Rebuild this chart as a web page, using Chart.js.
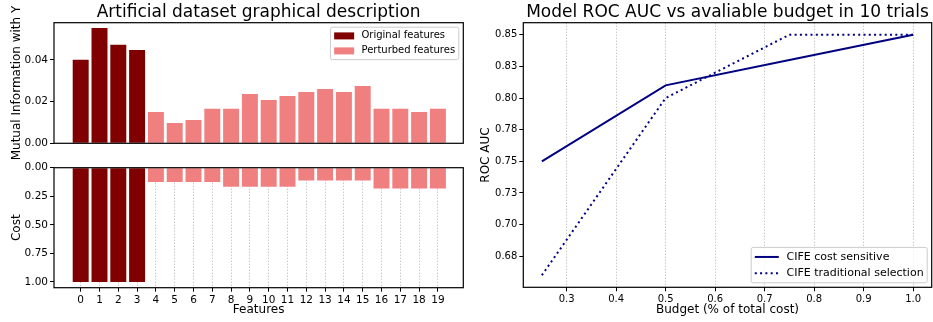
<!DOCTYPE html>
<html>
<head>
<meta charset="utf-8">
<script src="https://cdn.jsdelivr.net/npm/chart.js@4/dist/chart.umd.min.js"></script>
<style>
  body { margin: 0; background: #fff; }
  #wrap { position: relative; width: 933px; height: 322px; }
  canvas { position: absolute; }
</style>
</head>
<body>
<div id="wrap">
  <canvas id="miChart" width="470" height="172" style="left:0px;top:0px"></canvas>
  <canvas id="costChart" width="470" height="172" style="left:0px;top:150px"></canvas>
  <canvas id="rocChart" width="463" height="322" style="left:470px;top:0px"></canvas>
</div>
<script>
/* data */
var features = [0, 1, 2, 3, 4, 5, 6, 7, 8, 9, 10, 11, 12, 13, 14, 15, 16, 17, 18, 19]
var originalIdx = [0, 1, 2, 3]
var perturbedIdx = [4, 5, 6, 7, 8, 9, 10, 11, 12, 13, 14, 15, 16, 17, 18, 19]
var originalMI = [0.0400, 0.0553, 0.0472, 0.0447]
var perturbedMI = [0.0150, 0.0097, 0.0112, 0.0165, 0.0165, 0.0236, 0.0208, 0.0227,
                   0.0246, 0.0260, 0.0246, 0.0275, 0.0165, 0.0165, 0.0150, 0.0165]
var originalCost = [1, 1, 1, 1]
var perturbedCost = [0.125, 0.125, 0.125, 0.125, 0.167, 0.167, 0.167, 0.167,
                     0.111, 0.111, 0.111, 0.111, 0.182, 0.182, 0.182, 0.182]
var miTicks = [0, 0.02, 0.04]
var costTicks = [0, 0.25, 0.5, 0.75, 1]

var budget = [0.25, 0.5, 0.75, 1.0]
var aucCostSensitive = [0.750, 0.810, 0.830, 0.850]
var aucTraditional = [0.660, 0.800, 0.850, 0.850]
var budgetTicks = [0.3, 0.4, 0.5, 0.6, 0.7, 0.8, 0.9, 1.0]
var aucTicks = [0.675, 0.700, 0.725, 0.750, 0.775, 0.800, 0.825, 0.850]
var aucTickLabels = ['0.68', '0.70', '0.73', '0.75', '0.78', '0.80', '0.83', '0.85']

const FONT = '"DejaVu Sans", sans-serif'
Chart.defaults.font.family = FONT
Chart.defaults.color = '#000'

const pts = (xs, ys) => xs.map((x, i) => ({ x: x, y: ys[i] }))
const setTicks = list => s => { s.ticks = list.map(v => ({ value: v })) }

// black box round the plot area, like matplotlib spines
const frame = {
    id: 'frame',
    afterDatasetsDraw(chart) {
        const a = chart.chartArea, ctx = chart.ctx
        ctx.save()
        ctx.strokeStyle = '#000'
        ctx.lineWidth = 1.2
        ctx.strokeRect(a.left, a.top, a.right - a.left, a.bottom - a.top)
        ctx.restore()
    }
}

// legend drawn inside the plot area
const boxLegend = {
    id: 'boxLegend',
    afterDraw(chart, args, o) {
        const ctx = chart.ctx, a = chart.chartArea
        const sets = chart.data.datasets
        ctx.save()
        ctx.font = o.size + 'px ' + FONT
        const textW = Math.max(...sets.map(d => ctx.measureText(d.label).width))
        const w = o.padX * 2 + o.handle + o.gap + textW
        const h = o.padY * 2 + o.row * sets.length
        const x = a.right - o.margin - w
        const y = o.place === 'top' ? a.top + o.margin : a.bottom - o.margin - h
        ctx.beginPath()
        ctx.roundRect(x, y, w, h, 2)
        ctx.fillStyle = 'rgba(255,255,255,0.8)'
        ctx.fill()
        ctx.strokeStyle = '#cccccc'
        ctx.lineWidth = 1
        ctx.stroke()
        sets.forEach((d, i) => {
            const cy = y + o.padY + o.row * (i + 0.5)
            const hx = x + o.padX
            if (chart.config.type === 'bar') {
                ctx.fillStyle = d.backgroundColor
                ctx.fillRect(hx, cy - 3.5, o.handle, 7)
            } else {
                ctx.strokeStyle = d.borderColor
                ctx.lineWidth = d.borderWidth
                ctx.setLineDash(d.borderDash || [])
                ctx.beginPath()
                ctx.moveTo(hx, cy)
                ctx.lineTo(hx + o.handle, cy)
                ctx.stroke()
                ctx.setLineDash([])
            }
            ctx.fillStyle = '#000'
            ctx.textBaseline = 'middle'
            ctx.textAlign = 'left'
            ctx.fillText(d.label, hx + o.handle + o.gap, cy)
        })
        ctx.restore()
    }
}

const titleOpts = text => ({
    display: true,
    text: text,
    fullSize: false,
    color: '#000',
    font: { size: 17, weight: 'normal', lineHeight: 1.1 },
    padding: { top: 3.6, bottom: 0.4 }
})
const axisTitle = (text, pad) => ({
    display: true,
    text: text,
    color: '#000',
    font: { size: 12, lineHeight: 1.2 },
    padding: pad
})
const tickGrid = { drawOnChartArea: false, tickLength: 4, tickColor: '#000', tickWidth: 1 }
const dotGrid = { color: '#b0b0b0', lineWidth: 1, offset: false, tickLength: 4, tickColor: '#000', tickWidth: 1, tickBorderDash: [] }
const featureRange = { min: -1.42, max: 20.35 }

/* mutual information (top left) */
new Chart(document.getElementById('miChart'), {
    type: 'bar',
    data: {
        datasets: [
            { label: 'Original features', data: pts(originalIdx, originalMI), backgroundColor: '#800000' },
            { label: 'Perturbed features', data: pts(perturbedIdx, perturbedMI), backgroundColor: '#f08080' }
        ]
    },
    options: {
        responsive: false,
        animation: false,
        layout: { padding: { left: 0, right: 6.7, top: 0, bottom: 28.7 }, autoPadding: false },
        datasets: { bar: { grouped: false, barPercentage: 0.85, categoryPercentage: 1 } },
        scales: {
            x: {
                type: 'linear', min: featureRange.min, max: featureRange.max,
                offset: false, display: false, grid: { offset: false },
                afterBuildTicks: setTicks(features)
            },
            y: {
                min: 0, max: 0.0578,
                afterBuildTicks: setTicks(miTicks),
                ticks: { font: { size: 10.5 }, padding: 2, callback: v => v.toFixed(2) },
                grid: tickGrid,
                border: { display: false },
                title: axisTitle('Mutual Information with Y', { top: 10, bottom: 0 }),
                afterFit: s => { s.width = 54 }
            }
        },
        plugins: {
            legend: { display: false },
            tooltip: { enabled: false },
            title: titleOpts('Artificial dataset graphical description'),
            boxLegend: { size: 10, padX: 3.7, padY: 1.2, row: 15, handle: 20, gap: 7.3, margin: 4.5, place: 'top' }
        }
    },
    plugins: [frame, boxLegend]
})

/* cost (bottom left) */
new Chart(document.getElementById('costChart'), {
    type: 'bar',
    data: {
        datasets: [
            { label: 'Original features', data: pts(originalIdx, originalCost), backgroundColor: '#800000' },
            { label: 'Perturbed features', data: pts(perturbedIdx, perturbedCost), backgroundColor: '#f08080' }
        ]
    },
    options: {
        responsive: false,
        animation: false,
        layout: { padding: { left: 0, right: 6.7, top: 17.7, bottom: 0 }, autoPadding: false },
        datasets: { bar: { grouped: false, barPercentage: 0.85, categoryPercentage: 1 } },
        scales: {
            x: {
                type: 'linear', min: featureRange.min, max: featureRange.max, offset: false,
                afterBuildTicks: setTicks(features),
                ticks: { font: { size: 10.5 }, padding: 2, autoSkip: false, maxRotation: 0, callback: v => String(v) },
                grid: dotGrid,
                border: { display: false, dash: [1, 2] },
                title: axisTitle('Features', { top: 0, bottom: 5.3 }),
                afterFit: s => { s.height = 34.3 }
            },
            y: {
                reverse: true, min: 0, max: 1.05,
                afterBuildTicks: setTicks(costTicks),
                ticks: { font: { size: 10.5 }, padding: 2, callback: v => v.toFixed(2) },
                grid: tickGrid,
                border: { display: false },
                title: axisTitle('Cost', { top: 10, bottom: 0 }),
                afterFit: s => { s.width = 54 }
            }
        },
        plugins: {
            legend: { display: false },
            tooltip: { enabled: false }
        }
    },
    plugins: [frame]
})

/* ROC AUC vs budget (right) */
new Chart(document.getElementById('rocChart'), {
    type: 'line',
    data: {
        datasets: [
            { label: 'CIFE cost sensitive', data: pts(budget, aucCostSensitive), borderColor: '#000080', borderWidth: 2, pointRadius: 0, fill: false },
            { label: 'CIFE traditional selection', data: pts(budget, aucTraditional), borderColor: '#000080', borderWidth: 2, borderDash: [2, 3.3], pointRadius: 0, fill: false }
        ]
    },
    options: {
        responsive: false,
        animation: false,
        layout: { padding: { left: 0, right: 1.3, top: 0, bottom: 0 }, autoPadding: false },
        scales: {
            x: {
                type: 'linear', min: 0.2125, max: 1.0375,
                afterBuildTicks: setTicks(budgetTicks),
                ticks: { font: { size: 10 }, padding: 2, maxRotation: 0, callback: v => v.toFixed(1) },
                grid: dotGrid,
                border: { display: false, dash: [1, 2] },
                title: axisTitle('Budget (% of total cost)', { top: 0, bottom: 4.5 }),
                afterFit: s => { s.height = 34.7 }
            },
            y: {
                min: 0.6505, max: 0.8595,
                afterBuildTicks: setTicks(aucTicks),
                ticks: { font: { size: 10 }, padding: 2, callback: (v, i) => aucTickLabels[i] },
                grid: tickGrid,
                border: { display: false },
                title: axisTitle('ROC AUC', { top: 9, bottom: 0 }),
                afterFit: s => { s.width = 53.3 }
            }
        },
        plugins: {
            legend: { display: false },
            tooltip: { enabled: false },
            title: titleOpts('Model ROC AUC vs avaliable budget in 10 trials'),
            boxLegend: { size: 11, padX: 3.6, padY: 1.4, row: 16.3, handle: 24, gap: 7.7, margin: 4.5, place: 'bottom' }
        }
    },
    plugins: [frame, boxLegend]
})
</script>
</body>
</html>
